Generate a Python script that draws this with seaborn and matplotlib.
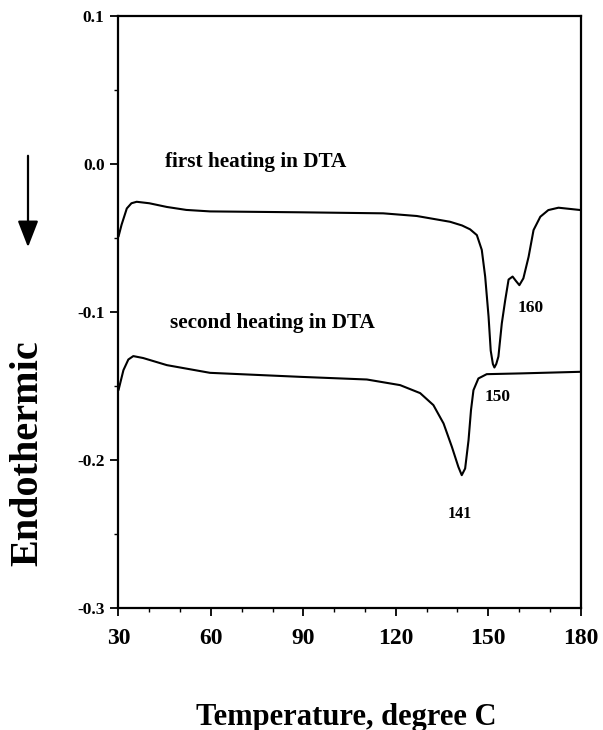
import matplotlib
matplotlib.use("Agg")
import matplotlib.pyplot as plt
import seaborn as sns
import pandas as pd
from matplotlib.ticker import FixedLocator, MultipleLocator

# ---- data ----
first_T = [30.0, 31.0, 32.7, 34.2, 35.9, 40.0, 45.7, 52.0, 59.7, 88.9, 115.9, 126.8,
           137.6, 141.5, 144.1, 146.3, 147.9, 149.0, 150.1, 150.8, 151.5, 152.0, 152.6,
           153.3, 154.4, 155.5, 156.6, 157.9, 159.0, 160.1, 161.4, 163.1, 164.7, 166.9,
           169.5, 172.8, 180.0]
first_V = [-0.049, -0.041, -0.030, -0.0265, -0.0255, -0.0265, -0.029, -0.031, -0.032,
           -0.0326, -0.0333, -0.0351, -0.039, -0.0415, -0.0441, -0.048, -0.058, -0.076,
           -0.103, -0.126, -0.135, -0.1374, -0.135, -0.130, -0.1076, -0.092, -0.078,
           -0.076, -0.079, -0.0818, -0.0772, -0.0626, -0.0446, -0.0356, -0.0311, -0.0295,
           -0.0311]

second_T = [30.0, 31.6, 33.2, 34.8, 38.0, 45.7, 59.7, 88.9, 110.6, 121.4, 127.9, 132.2,
            135.5, 138.2, 140.3, 141.4, 142.5, 143.6, 144.4, 145.2, 146.8, 149.5, 160.3,
            180.0]
second_V = [-0.1527, -0.1392, -0.132, -0.1297, -0.131, -0.1358, -0.141, -0.1437, -0.1455,
            -0.1493, -0.1547, -0.1628, -0.1752, -0.191, -0.2045, -0.2101, -0.2056, -0.1865,
            -0.1662, -0.1527, -0.1448, -0.1419, -0.1414, -0.1403]

x_ticks = [30, 60, 90, 120, 150, 180]
x_labels = ["30", "60", "90", "120", "150", "180"]
y_ticks = [0.1, 0.0, -0.1, -0.2, -0.3]
y_labels = ["0.1", "0.0", "-0.1", "-0.2", "-0.3"]

curve_names = ["first heating in DTA", "second heating in DTA"]
peak_labels = ["150", "160", "141"]

# ---- style ----
sns.set_style("ticks")
plt.rcParams["font.family"] = ["Liberation Serif", "DejaVu Serif"]
plt.rcParams["font.weight"] = "bold"
plt.rcParams["axes.unicode_minus"] = False
plt.rcParams["text.color"] = "black"
plt.rcParams["xtick.color"] = "black"
plt.rcParams["ytick.color"] = "black"
plt.rcParams["axes.labelcolor"] = "black"

fig = plt.figure(figsize=(6.03, 7.30), dpi=100)
ax = fig.add_axes([0.1965, 0.1667, 0.7665, 0.8115])

df1 = pd.DataFrame({"T": first_T, "V": first_V})
df2 = pd.DataFrame({"T": second_T, "V": second_V})
sns.lineplot(data=df1, x="T", y="V", ax=ax, color="black", lw=1.5, estimator=None, sort=False)
sns.lineplot(data=df2, x="T", y="V", ax=ax, color="black", lw=1.5, estimator=None, sort=False)

ax.set_xlim(30, 180)
ax.set_ylim(-0.3, 0.1)
ax.xaxis.set_major_locator(FixedLocator(x_ticks))
ax.set_xticklabels(x_labels, fontsize=17, fontweight="bold", color="black")
ax.xaxis.set_minor_locator(MultipleLocator(10))
ax.yaxis.set_major_locator(FixedLocator(y_ticks))
ax.set_yticklabels(y_labels, fontsize=12.5, fontweight="bold", color="black")
ax.yaxis.set_minor_locator(MultipleLocator(0.05))
ax.tick_params(axis="x", which="major", direction="out", length=6, width=1.3, pad=8)
ax.tick_params(axis="x", which="minor", direction="out", length=3, width=1.0)
ax.tick_params(axis="y", which="major", direction="out", length=6, width=1.3, pad=4)
ax.tick_params(axis="y", which="minor", direction="out", length=3, width=1.0)
ax.set_xlabel("")
ax.set_ylabel("")
for s in ax.spines.values():
    s.set_linewidth(1.6)
    s.set_color("black")

# annotations
ax.text(45.1, 0.0014, curve_names[0], fontsize=15.3, fontweight="bold", ha="left", va="center")
ax.text(46.7, -0.1074, curve_names[1], fontsize=15.3, fontweight="bold", ha="left", va="center")
ax.text(153.0, -0.157, peak_labels[0], fontsize=12.5, fontweight="bold", ha="center", va="center")
ax.text(163.6, -0.097, peak_labels[1], fontsize=12.5, fontweight="bold", ha="center", va="center")
ax.text(140.9, -0.2365, peak_labels[2], fontsize=11.5, fontweight="bold", ha="center", va="center")

# axis titles
fig.text(346 / 603, 1 - 717 / 730, "Temperature, degree C", fontsize=22, fontweight="bold",
         ha="center", va="center")
fig.text(27.5 / 603, 1 - 453 / 730, "Endothermic", fontsize=29, fontweight="bold",
         rotation=90, ha="center", va="center")
ax.annotate("", xy=(28 / 603, 1 - 250 / 730), xytext=(28 / 603, 1 - 153 / 730),
            xycoords="figure fraction", textcoords="figure fraction",
            arrowprops=dict(arrowstyle="-|>,head_length=0.9,head_width=0.35",
                            lw=1.6, color="black", mutation_scale=18))

fig.savefig("out.png", dpi=100, facecolor="white")
